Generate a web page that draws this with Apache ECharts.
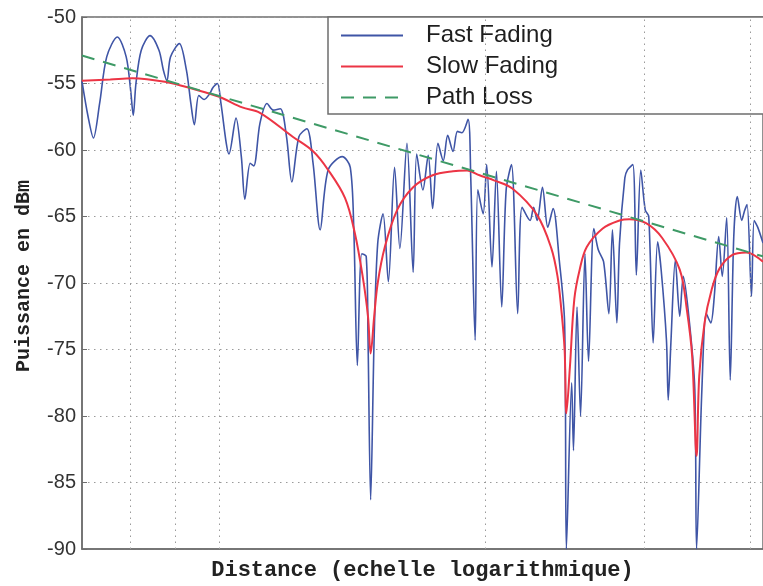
<!DOCTYPE html>
<html>
<head>
<meta charset="utf-8">
<script src="https://cdn.jsdelivr.net/npm/echarts@6/dist/echarts.min.js"></script>
<style>
  html, body { margin: 0; padding: 0; background: #fff; }
  #chart { width: 763px; height: 586px; }
</style>
</head>
<body>
<div id="chart"></div>
<script>
// x values are log10(distance); the axis is a logarithmic distance scale without labels
const fastLogD = [1.845,1.852,1.858,1.865,1.873,1.885,1.895,1.900,1.903,1.906,
  1.912,1.922,1.932,1.937,1.941,1.945,1.955,1.963,1.968,1.972,
  1.977,1.983,1.989,1.993,1.998,2.002,2.008,2.011,2.019,2.025,
  2.029,2.035,2.039,2.046,2.054,2.061,2.069,2.076,2.082,2.090,
  2.099,2.106,2.114,2.123,2.139,2.148,2.152,2.156,2.161,2.166,
  2.168,2.171,2.175,2.179,2.185,2.191,2.198,2.204,2.212,2.219,
  2.223,2.230,2.236,2.241,2.247,2.253,2.258,2.264,2.269,2.274,
  2.281,2.284,2.289,2.292,2.298,2.302,2.308,2.313,2.319,2.324,
  2.330,2.337,2.342,2.351,2.355,2.359,2.365,2.371,2.377,2.384,
  2.390,2.392,2.398,2.400,2.404,2.408,2.413,2.417,2.423,2.428,
  2.434,2.440,2.444,2.449,2.452,2.458,2.461,2.467,2.471,2.476,
  2.481,2.485,2.490,2.495,2.499,2.505,2.507,2.510,2.515,2.520,
  2.524,2.531,2.537,2.539,2.545,2.550,2.555,2.559,2.564,2.568,
  2.573,2.577,2.581,2.585,2.590,2.593,2.596,2.601,2.604,2.608,
  2.614];
const fastDbm = [-54.8,-57.5,-59.1,-56.5,-53.0,-51.5,-53.0,-55.5,-57.4,-55.0,
  -52.5,-51.4,-52.5,-54.0,-54.8,-53.0,-52.0,-54.0,-56.5,-58.1,
  -55.9,-56.2,-55.8,-55.3,-55.0,-56.5,-59.5,-60.3,-57.6,-60.5,
  -63.7,-61.0,-61.2,-58.0,-56.5,-57.0,-56.9,-59.0,-62.4,-59.0,
  -58.4,-61.0,-66.0,-61.5,-60.5,-61.3,-66.0,-76.2,-67.8,-68.0,
  -74.0,-86.3,-74.0,-67.0,-64.8,-69.9,-61.3,-67.4,-59.5,-69.2,
  -60.3,-63.0,-60.4,-64.4,-59.5,-60.8,-58.9,-60.1,-58.6,-58.7,
  -57.7,-62.0,-74.3,-63.0,-64.8,-61.1,-68.8,-61.6,-71.8,-63.0,
  -61.1,-72.3,-64.3,-65.3,-64.3,-65.3,-62.8,-65.8,-64.4,-68.3,
  -73.0,-90.0,-77.5,-82.6,-71.8,-80.0,-67.8,-75.9,-65.9,-67.5,
  -68.4,-72.3,-66.0,-73.0,-67.0,-62.1,-61.5,-61.1,-69.4,-61.5,
  -64.5,-65.0,-74.5,-66.9,-69.0,-74.3,-78.8,-74.5,-68.3,-72.5,
  -69.5,-73.0,-78.0,-90.0,-78.0,-72.3,-73.0,-71.0,-66.5,-69.5,
  -65.1,-77.3,-66.5,-63.5,-65.3,-64.6,-64.1,-71.0,-65.3,-65.8,
  -67.0];

const slowLogD = [1.845,1.877,1.902,1.941,1.970,2.000,2.026,2.046,2.083,2.106,
  2.123,2.142,2.153,2.162,2.168,2.171,2.175,2.179,2.187,2.201,
  2.219,2.241,2.264,2.280,2.294,2.311,2.331,2.359,2.375,2.382,
  2.386,2.390,2.392,2.396,2.401,2.407,2.415,2.433,2.452,2.463,
  2.482,2.500,2.520,2.528,2.534,2.539,2.542,2.548,2.556,2.565,
  2.579,2.595,2.614];
const slowDbm = [-54.8,-54.7,-54.6,-54.9,-55.4,-56.0,-56.8,-57.2,-59.0,-60.1,
  -61.5,-63.6,-66.2,-69.5,-72.5,-75.3,-72.5,-70.0,-67.3,-64.5,
  -62.8,-61.9,-61.6,-61.55,-61.9,-62.3,-62.9,-64.9,-67.4,-69.5,
  -71.8,-75.0,-79.8,-76.3,-71.2,-69.0,-67.3,-65.9,-65.3,-65.2,
  -65.5,-66.6,-69.0,-72.0,-75.5,-83.0,-77.0,-73.0,-70.5,-68.9,
  -67.9,-67.7,-68.4];

const pathLogD = [1.845, 2.614];
const pathDbm = [-52.9, -68.0];

// distances (m) where the vertical grid lines sit
const gridDistances = [80, 90, 100, 200, 300, 400];

const seriesNames = ['Fast Fading', 'Slow Fading', 'Path Loss'];

const zip = (xs, ys) => xs.map((x, i) => [x, ys[i]]);

const chart = echarts.init(document.getElementById('chart'), null, { renderer: 'canvas' });

const axisColor = '#6e6e6e';
const gridDot = { type: [1.5, 4.5], color: '#9a9a9a', width: 1 };
const noMarker = 'rgba(0,0,0,0)';

chart.setOption({
  animation: false,
  backgroundColor: '#ffffff',
  grid: {
    left: 82, top: 17, width: 682, height: 532,
    show: true, borderColor: axisColor, borderWidth: 1.5, backgroundColor: 'transparent'
  },
  legend: {
    data: seriesNames,
    orient: 'vertical',
    left: 328, top: 17,
    padding: [3, 300, 1, 12],
    itemWidth: 62, itemHeight: 14, itemGap: 0,
    backgroundColor: '#ffffff',
    borderColor: axisColor, borderWidth: 1.5,
    itemStyle: { color: noMarker, borderColor: noMarker, borderWidth: 0 },
    textStyle: {
      fontFamily: 'Liberation Sans', fontSize: 24, color: '#1e1e1e',
      lineHeight: 31, padding: [0, 0, 0, 18]
    }
  },
  xAxis: {
    type: 'value',
    min: 1.8451, max: 2.614,
    name: 'Distance (echelle logarithmique)',
    nameLocation: 'middle', nameGap: 10,
    nameTextStyle: { fontFamily: 'Liberation Mono', fontWeight: 'bold', fontSize: 22, color: '#222' },
    axisLine: { show: true, lineStyle: { color: axisColor, width: 1.5 } },
    axisTick: { show: false },
    axisLabel: { show: false },
    splitLine: { show: false }
  },
  yAxis: {
    type: 'value',
    min: -90, max: -50, interval: 5,
    name: 'Puissance en dBm',
    nameLocation: 'middle', nameRotate: 90, nameGap: 48,
    nameTextStyle: { fontFamily: 'Liberation Mono', fontWeight: 'bold', fontSize: 20, color: '#222', padding: [0, 0, 0, 14] },
    axisLine: { show: true, lineStyle: { color: axisColor, width: 1.5 } },
    axisTick: { show: true, inside: true, length: 5, lineStyle: { color: axisColor } },
    axisLabel: { fontFamily: 'Liberation Sans', fontSize: 20, color: '#333', margin: 6 },
    splitLine: { show: true, lineStyle: gridDot }
  },
  series: [
    {
      name: 'grid', type: 'line', data: [], z: 1, silent: true,
      markLine: {
        silent: true, symbol: ['none', 'none'], animation: false,
        label: { show: false },
        lineStyle: gridDot,
        data: gridDistances.map(d => ({ xAxis: Math.log10(d) }))
      }
    },
    {
      name: seriesNames[0], type: 'line', z: 2,
      data: zip(fastLogD, fastDbm),
      symbol: 'none', smooth: 0.3,
      lineStyle: { color: '#3f55a6', width: 1.6 },
      itemStyle: { color: '#3f55a6' }
    },
    {
      name: seriesNames[1], type: 'line', z: 3,
      data: zip(slowLogD, slowDbm),
      symbol: 'none', smooth: 0.35,
      lineStyle: { color: '#ec3545', width: 2 },
      itemStyle: { color: '#ec3545' }
    },
    {
      name: seriesNames[2], type: 'line', z: 4,
      data: zip(pathLogD, pathDbm),
      symbol: 'none',
      lineStyle: { color: '#3e9a66', width: 2, type: [13, 9] },
      itemStyle: { color: '#3e9a66' }
    }
  ]
});
</script>
</body>
</html>
